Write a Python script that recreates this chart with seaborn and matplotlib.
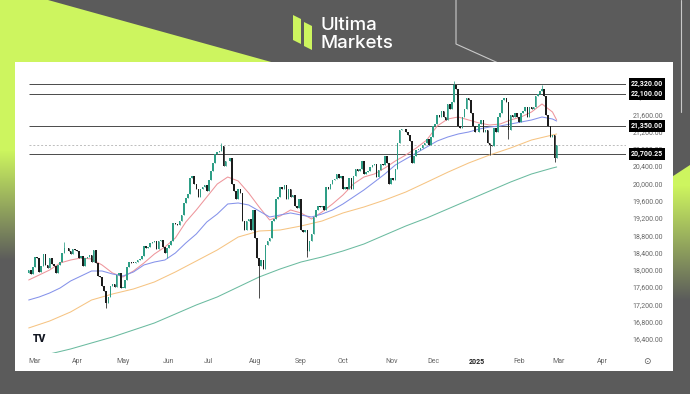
import numpy as np
import pandas as pd
import matplotlib
matplotlib.use("Agg")
import matplotlib.pyplot as plt
import matplotlib.transforms as mtransforms
from matplotlib.patches import Rectangle, Polygon
import seaborn as sns

# daily closes, one list per month
close_2024_02 = [18010, 17930, 18090]
close_2024_03 = [18330, 18300, 17980, 18110, 18400, 18130, 18060, 18300, 18160, 18120,
                 17950, 18130, 18200, 18420, 18520, 18530, 18450, 18400, 18500, 18480]
close_2024_04 = [18450, 18300, 18350, 18100, 18300, 18310, 18370, 18200, 18480, 18170, 17870,
                 17850, 17640, 17540, 17250, 17400, 17650, 17700, 17620, 17900, 17950, 17600]
close_2024_05 = [17600, 17780, 18080, 18200, 18190, 18180, 18210, 18250, 18270, 18350, 18570,
                 18530, 18540, 18640, 18670, 18690, 18500, 18680, 18720, 18560, 18420, 18520]
close_2024_06 = [18600, 18700, 19100, 19080, 19060, 19150, 19300, 19560, 19680, 19780,
                 20150, 20200, 20000, 19900, 19700, 19900, 19950, 19980, 19850]
close_2024_07 = [20100, 20300, 20500, 20700, 20750, 20770, 20880, 20420, 20530, 20550, 20600,
                 20000, 19850, 19650, 19900, 19800, 19150, 18950, 19150, 19200, 18950, 19400]
close_2024_08 = [18750, 18300, 18100, 18250, 18050, 18600, 18700, 18750, 19150, 19200, 19650,
                 19700, 19950, 19900, 19980, 19650, 19900, 19700, 19750, 19500, 19450, 19650]
close_2024_09 = [18950, 18900, 18950, 18450, 18700, 18850, 19250, 19400, 19500, 19480,
                 19500, 19400, 19950, 19900, 20000, 20100, 20120, 20250, 20150, 20200]
close_2024_10 = [19900, 19950, 19900, 20150, 19900, 20200, 20350, 20300, 20350, 20550, 20250, 20280,
                 20300, 20400, 20450, 20460, 20180, 20330, 20470, 20450, 20650, 20500, 20000]
close_2024_11 = [20150, 20100, 20350, 20950, 21250, 21280, 21270, 21200, 21150, 21000,
                 20500, 20650, 20800, 20800, 20850, 20900, 20950, 21050, 20900, 21100]
close_2024_12 = [21350, 21400, 21600, 21550, 21700, 21550, 21500, 21850, 21750, 21900, 22300,
                 22200, 21350, 21300, 21550, 21750, 22000, 21950, 21650, 21350, 21200]
close_2025_01 = [21200, 21400, 21500, 21200, 21250, 20950, 20900, 20880, 21300, 21200,
                 21550, 21650, 21950, 22000, 21900, 21250, 21600, 21550, 21650, 21550]
close_2025_02 = [21450, 21650, 21700, 21800, 21550, 21800, 21750, 21780, 22050, 22100,
                 22150, 22200, 22050, 21600, 21350, 21100, 21150, 20600, 20910]
first_open = 17960

# long wicks that stick out of the bodies
wick_high = {"2024-03-21": 18660, "2024-07-10": 20950, "2024-12-16": 22380, "2025-02-19": 22300}
wick_low = {"2024-04-19": 17150, "2024-05-31": 18300, "2024-08-05": 17370, "2024-09-06": 18320,
            "2025-01-13": 20680, "2025-01-27": 21050, "2025-02-27": 20520}

holidays = ["2024-03-29", "2024-05-27", "2024-06-19", "2024-07-04", "2024-09-02", "2024-11-28",
            "2024-12-25", "2025-01-01", "2025-01-09", "2025-01-20", "2025-02-17"]

# moving averages read every 5th / 10th bar
ma_red = [17788, 17903, 18019, 18181, 18250, 18297, 18274, 18135, 17950, 17857, 17996, 18181, 18389,
          18551, 18759, 19129, 19407, 19708, 20008, 20170, 20078, 19800, 19476, 19176, 19268, 19407,
          19338, 19199, 19361, 19546, 19754, 20008, 20170, 20240, 20378, 20540, 20679, 20841, 21026,
          21350, 21512, 21558, 21489, 21419, 21373, 21396, 21489, 21558, 21674, 21859, 21674, 21489]
ma_blue = [17325, 17395, 17487, 17603, 17765, 17880, 17996, 17996, 17927, 17880, 17973, 18135, 18204,
           18250, 18412, 18644, 18852, 19129, 19314, 19546, 19569, 19523, 19384, 19245, 19291, 19338,
           19291, 19245, 19314, 19407, 19546, 19708, 19870, 20054, 20240, 20448, 20587, 20725, 20864,
           21003, 21095, 21165, 21211, 21280, 21327, 21350, 21396, 21442, 21489, 21558, 21512, 21465]
ma_orange = [16678, 16839, 17048, 17325, 17464, 17580, 17742, 17973, 18227, 18482, 18782, 18921, 18944,
             19037, 19152, 19338, 19476, 19638, 19823, 20050, 20280, 20494, 20679, 20841, 21026,
             21142, 21165]
ma_green = [16007, 16076, 16192, 16331, 16469, 16631, 16793, 17001, 17210, 17395, 17626, 17857, 18042,
            18204, 18320, 18459, 18620, 18829, 19037, 19222, 19430, 19638, 19846, 20054, 20240,
            20378, 20402]

levels = [22320, 22100, 21350, 20700.25]
price_ticks = [16400, 16800, 17200, 17600, 18000, 18400, 18800, 19200, 19600,
               20000, 20400, 20800, 21200, 21600, 22000, 22400]

# colours
LIME = "#cdf55f"
GREY_BG = "#5b5b5b"
UP = "#2e9e86"
DOWN = "#1c1c1c"

# trading days
all_days = pd.bdate_range("2024-02-27", "2025-04-30")
all_days = all_days[~all_days.isin(pd.to_datetime(holidays))]
closes = (close_2024_02 + close_2024_03 + close_2024_04 + close_2024_05 + close_2024_06
          + close_2024_07 + close_2024_08 + close_2024_09 + close_2024_10 + close_2024_11
          + close_2024_12 + close_2025_01 + close_2025_02)
n = len(closes)

df = pd.DataFrame({"date": all_days[:n], "close": closes})
df["x"] = np.arange(n)
df["open"] = df["close"].shift(1).fillna(first_open)
keys = df["date"].dt.strftime("%Y-%m-%d")
df["high"] = np.maximum(df["open"], df["close"])
df["low"] = np.minimum(df["open"], df["close"])
df.loc[keys.isin(wick_high.keys()), "high"] = keys[keys.isin(wick_high.keys())].map(wick_high)
df.loc[keys.isin(wick_low.keys()), "low"] = keys[keys.isin(wick_low.keys())].map(wick_low)
df["up"] = df["close"] >= df["open"]

fast_x = list(range(0, n, 5)) + [n - 1]
slow_x = list(range(0, n, 10)) + [n - 1]
ma_df = pd.concat([
    pd.DataFrame({"x": fast_x, "v": ma_red, "ma": "red"}),
    pd.DataFrame({"x": fast_x, "v": ma_blue, "ma": "blue"}),
    pd.DataFrame({"x": slow_x, "v": ma_orange, "ma": "orange"}),
    pd.DataFrame({"x": slow_x, "v": ma_green, "ma": "green"}),
])

sns.set_theme(style="white")
plt.rcParams["font.family"] = ["Roboto", "DejaVu Sans"]

W, H = 690, 394
fig = plt.figure(figsize=(W / 100, H / 100), dpi=100)
fig.patch.set_facecolor(GREY_BG)

# ---- background decoration, in pixel coordinates
bg = fig.add_axes([0, 0, 1, 1])
bg.set_xlim(0, W)
bg.set_ylim(H, 0)
bg.axis("off")


def gradient(y0, y1):
    c1 = np.array(matplotlib.colors.to_rgb(LIME))
    c2 = np.array(matplotlib.colors.to_rgb(GREY_BG))
    t = np.clip((np.arange(H) - y0) / (y1 - y0), 0, 1)[:, None]
    img = c1 * (1 - t) + c2 * t
    return img[:, None, :]


for pts, y0, y1 in [([(0, 0), (48, 0), (300, 70), (15, 300), (0, 300)], 150, 260),
                    ([(560, 250), (690, 165), (690, 394), (560, 394)], 185, 300)]:
    poly = Polygon(pts, closed=True, fc="none", ec="none")
    bg.add_patch(poly)
    im = bg.imshow(gradient(y0, y1), extent=(0, W, H, 0), aspect="auto", zorder=1)
    im.set_clip_path(poly)

bg.plot([456, 456, 545], [0, 44, 84], color="#c9c9c9", lw=0.8, zorder=2)
bg.plot([681, 681], [0, 112], color="#c9c9c9", lw=0.8, zorder=2)

bg.add_patch(Rectangle((15, 62), 658, 309, fc="white", ec="none", zorder=3))

# logo
bg.add_patch(Polygon([(293, 15), (301, 19), (301, 44), (293, 40)], fc=LIME, ec="none", zorder=4))
bg.add_patch(Polygon([(304, 22), (312, 26), (312, 50), (304, 46)], fc=LIME, ec="none", zorder=4))
bg.text(321, 30, "Ultima", color="white", fontsize=13.5, fontfamily="Inter",
        fontweight="medium", va="baseline", zorder=4)
bg.text(321, 48, "Markets", color="white", fontsize=13.5, fontfamily="Inter",
        fontweight="medium", va="baseline", zorder=4)

bg.text(33, 339, "TV", color="#131722", fontsize=7.5, fontweight="black", va="center", zorder=4)
bg.text(647, 362, "\u2299", color="#555555", fontsize=6.5, ha="center", va="center",
        fontfamily="DejaVu Sans", zorder=4)

# ---- price chart
left, right, top, bottom = 20, 626, 65, 353
ax = fig.add_axes([left / W, 1 - bottom / H, (right - left) / W, (bottom - top) / H])
ax.patch.set_alpha(0)
for s in ax.spines.values():
    s.set_visible(False)

x_lo, x_hi = -4.15, 285.1
ax.set_xlim(x_lo, x_hi)
ax.set_ylim(16099, 22761)

for lvl in levels:
    ax.hlines(lvl, 0, x_hi, color="#4a4a4a", lw=0.7, zorder=1)
ax.hlines(closes[-1], 0, x_hi, color="#bdbdbd", lw=0.7, linestyles=(0, (2, 2)), zorder=1)

sns.lineplot(data=ma_df, x="x", y="v", hue="ma",
             palette={"red": "#ee959b", "blue": "#8592ea", "orange": "#f6c483", "green": "#6bbba0"},
             lw=0.75, legend=False, ax=ax, zorder=2)

cols = np.where(df["up"], UP, DOWN)
ax.vlines(df["x"], df["low"], df["high"], colors=cols, lw=0.55, zorder=3)
body = np.maximum((df["close"] - df["open"]).abs(), 15)
ax.bar(df["x"], body, bottom=np.minimum(df["open"], df["close"]), width=0.75,
       color=cols, lw=0, zorder=4)

# month ticks
month_start = all_days.to_series().dt.month.diff().fillna(0) != 0
tick_days = all_days[month_start.values]
tick_pos = [all_days.get_loc(d) for d in tick_days]
tick_lab = ["2025" if (d.month == 1) else d.strftime("%b") for d in tick_days]
ax.set_xticks(tick_pos)
ax.set_xticklabels(tick_lab)
ax.tick_params(axis="x", length=0, pad=3.5, labelsize=5, labelcolor="#666666")
for t in ax.get_xticklabels():
    if t.get_text() == "2025":
        t.set_fontweight("bold")
        t.set_color("#222222")
ax.set_yticks([])
ax.set_xlabel("")
ax.set_ylabel("")

trans = mtransforms.blended_transform_factory(ax.transAxes, ax.transData)
lab_x = (663 - left) / (right - left)
for p in price_ticks:
    ax.text(lab_x, p, f"{p:,.2f}", transform=trans, ha="right", va="center",
            fontsize=5, color="#666666", clip_on=False, zorder=5)
for lvl in levels:
    ax.text(lab_x, lvl, f"{lvl:,.2f}", transform=trans, ha="right", va="center",
            fontsize=5, color="white", fontweight="bold", clip_on=False, zorder=6,
            bbox=dict(boxstyle="square,pad=0.3", fc="black", ec="none"))

fig.savefig("out.png", dpi=100, facecolor=fig.get_facecolor())
